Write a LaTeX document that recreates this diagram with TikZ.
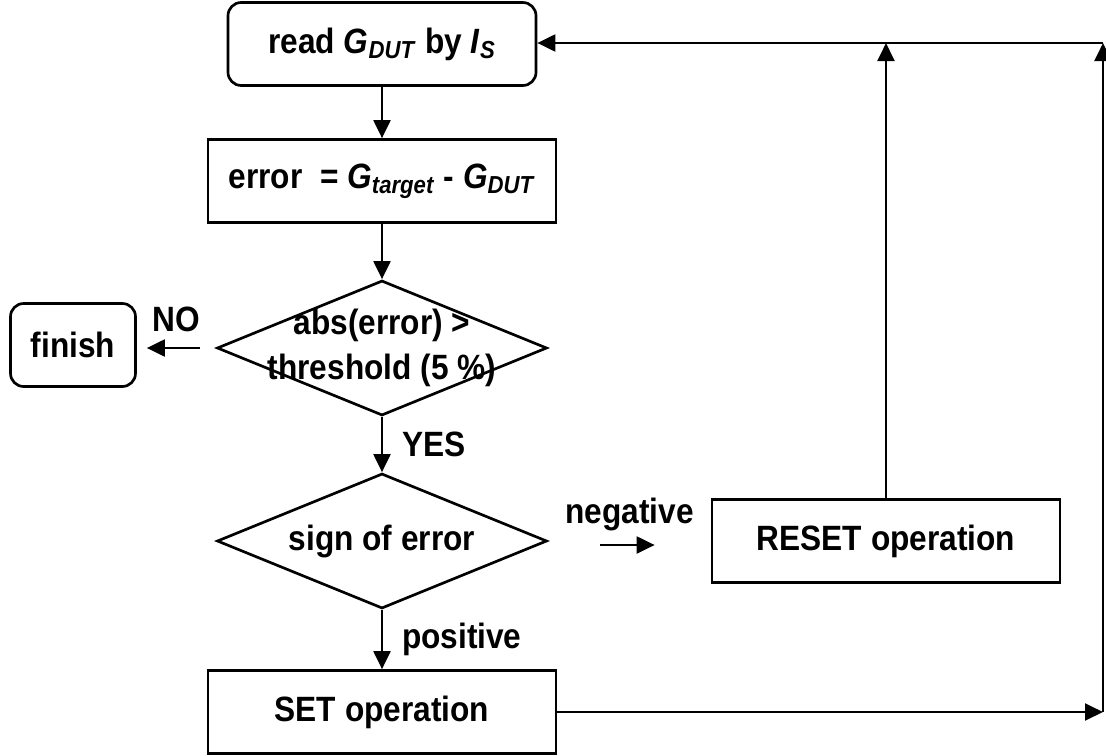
\documentclass[tikz,border=0pt]{standalone}
\usepackage{fontspec}
\setmainfont{Liberation Sans}[FakeStretch=0.9]
\usepackage{tikz}
\usetikzlibrary{shapes,arrows.meta,positioning,calc}

\newcommand{\quant}[2]{\textit{#1}\textsubscript{\textit{#2}}}

\begin{document}
\begin{tikzpicture}[
    font=\fontsize{25}{32}\selectfont\bfseries,
    line width=1.9pt,
    flow/.style={-{Triangle[length=0.45cm,width=0.42cm]}},
    opbox/.style={draw, rectangle, minimum width=8.7cm, minimum height=2.075cm, inner sep=0pt},
    roundbox/.style={opbox, rounded corners=0.33cm},
    decision/.style={draw, diamond, minimum width=8.25cm, minimum height=3.375cm, inner sep=0pt},
  ]
  \useasboundingbox (0,0) rectangle (27.65,-18.875);
  %main column
  \node[roundbox, minimum width=7.7cm] (read) at (9.55,-1.1) {read \quant{G}{DUT} by \quant{I}{S}};
  \node[opbox] (err) at (9.55,-4.525) {error~ = \quant{G}{target} - \quant{G}{DUT}};
  \node[decision, label={[align=center]center:abs(error) >\\threshold (5 \%)}] (chk) at (9.55,-8.7) {};
  \node[decision, label=center:sign of error] (sign) at (9.55,-13.525) {};
  \node[opbox] (set) at (9.55,-17.8) {SET operation};
  %side boxes
  \node[roundbox, minimum width=3.125cm] (finish) at (1.825,-8.625) {finish};
  \node[opbox] (reset) at (22.15,-13.525) {RESET operation};
  %feedback corners
  \coordinate (br) at (27.575,-17.8);
  \coordinate (tr) at (27.575,-1.075);

  \draw[flow] (read) -- (err);
  \draw[flow] (err) -- (chk);
  \draw[flow] (chk) -- node[midway, right=0.35cm] {YES} (sign);
  \draw[flow] (sign) -- node[midway, right=0.35cm] {positive} (set);
  \draw[flow, shorten <=0.4cm, shorten >=0.25cm] (chk.west) -- node[midway, above=0.25cm] {NO} (chk.west -| finish.east);
  \draw[flow, shorten <=1.3cm, shorten >=1.4cm] ([yshift=-0.1cm]sign.east) -- node[midway, above=0.2cm] {negative} ([yshift=-0.1cm]reset.west);
  %loop back
  \draw[flow] (set) -- (br);
  \draw[flow] (br) -- (tr);
  \draw[flow] (tr) -- (read.east |- tr);
  \draw[flow] (reset) -- (reset |- tr);
\end{tikzpicture}
\end{document}
